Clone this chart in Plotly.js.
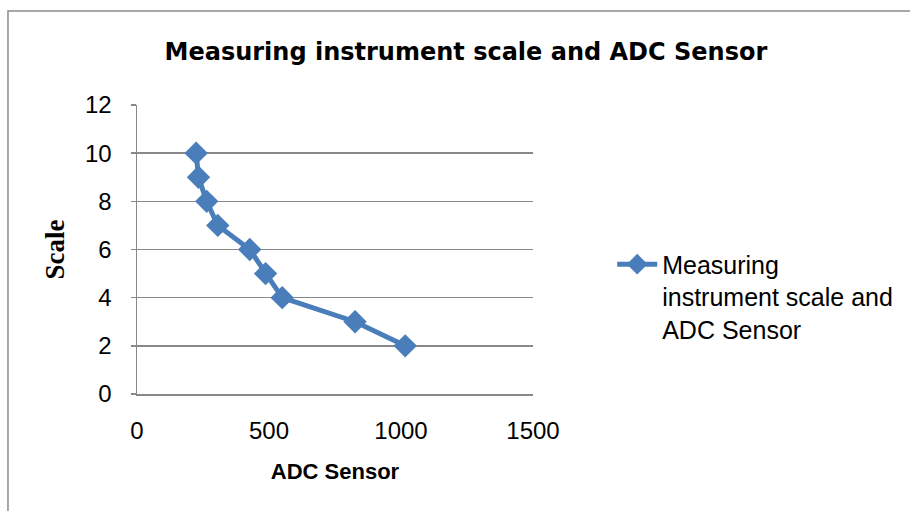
<!DOCTYPE html>
<html>
<head>
<meta charset="utf-8">
<script src="https://cdn.plot.ly/plotly-3.0.1.min.js"></script>
<style>html,body{margin:0;padding:0;background:#fff;}#chart{width:910px;height:511px;}</style>
</head>
<body>
<div id="chart"></div>
<script>
const seriesName = "Measuring<br>instrument scale and<br>ADC Sensor";
const adcSensor = [224, 233, 264, 306, 427, 487, 550, 826, 1016];
const scaleValues = [10, 9, 8, 7, 6, 5, 4, 3, 2];
const xTicks = [0, 500, 1000, 1500];
const yTicks = [0, 2, 4, 6, 8, 10, 12];

const trace = {
  x: adcSensor,
  y: scaleValues,
  type: 'scatter',
  mode: 'lines+markers',
  name: seriesName,
  line: {color: '#4a7ebb', width: 5},
  marker: {symbol: 'diamond', size: 18, color: '#4a7ebb'},
  showlegend: true
};

const layout = {
  width: 910, height: 511,
  margin: {l: 137, r: 374, t: 105, b: 117},
  paper_bgcolor: '#fff', plot_bgcolor: '#fff',
  font: {family: 'Liberation Sans, Arial, sans-serif', color: '#000'},
  title: {
    text: '<b>Measuring instrument scale and ADC Sensor</b>',
    font: {size: 24, family: 'DejaVu Sans, Liberation Sans, sans-serif', color: '#000'},
    x: 0.512, xref: 'container', xanchor: 'center',
    y: 0.9, yref: 'container', yanchor: 'middle'
  },
  xaxis: {
    range: [0, 1500], tickvals: xTicks, ticktext: xTicks.map(String),
    showgrid: false, zeroline: false,
    showline: true, linecolor: '#888', linewidth: 1.5,
    ticks: '', ticklabelstandoff: 15,
    tickfont: {size: 24, color: '#000'},
    title: {text: '<b>ADC Sensor</b>', font: {size: 22, color: '#000'}, standoff: 20}
  },
  yaxis: {
    range: [0, 12], tickvals: yTicks, ticktext: yTicks.map(String),
    showgrid: true, gridcolor: '#888', gridwidth: 1.5,
    zeroline: false, showline: true, linecolor: '#888', linewidth: 1.5,
    ticks: 'outside', ticklen: 5, tickcolor: '#888', tickwidth: 1.5,
    ticklabelstandoff: 14,
    tickfont: {size: 24, color: '#000'},
    title: {text: '<b>Scale</b>', font: {size: 27, family: 'Liberation Serif, Times New Roman, serif', color: '#000'}, standoff: 12}
  },
  legend: {
    x: 1.2, xanchor: 'left', y: 0.336, yanchor: 'middle',
    valign: 'top',
    font: {size: 25, color: '#000'},
    bgcolor: 'rgba(0,0,0,0)', itemwidth: 40
  },
  shapes: [{
    type: 'rect', xref: 'paper', yref: 'paper',
    x0: -0.3258, x1: 2.0, y0: -0.45, y1: 1.325,
    line: {color: '#8c8c8c', width: 1.5}, fillcolor: 'rgba(0,0,0,0)', layer: 'below'
  }]
};

Plotly.newPlot('chart', [trace], layout, {displayModeBar: false, staticPlot: true});
</script>
</body>
</html>
